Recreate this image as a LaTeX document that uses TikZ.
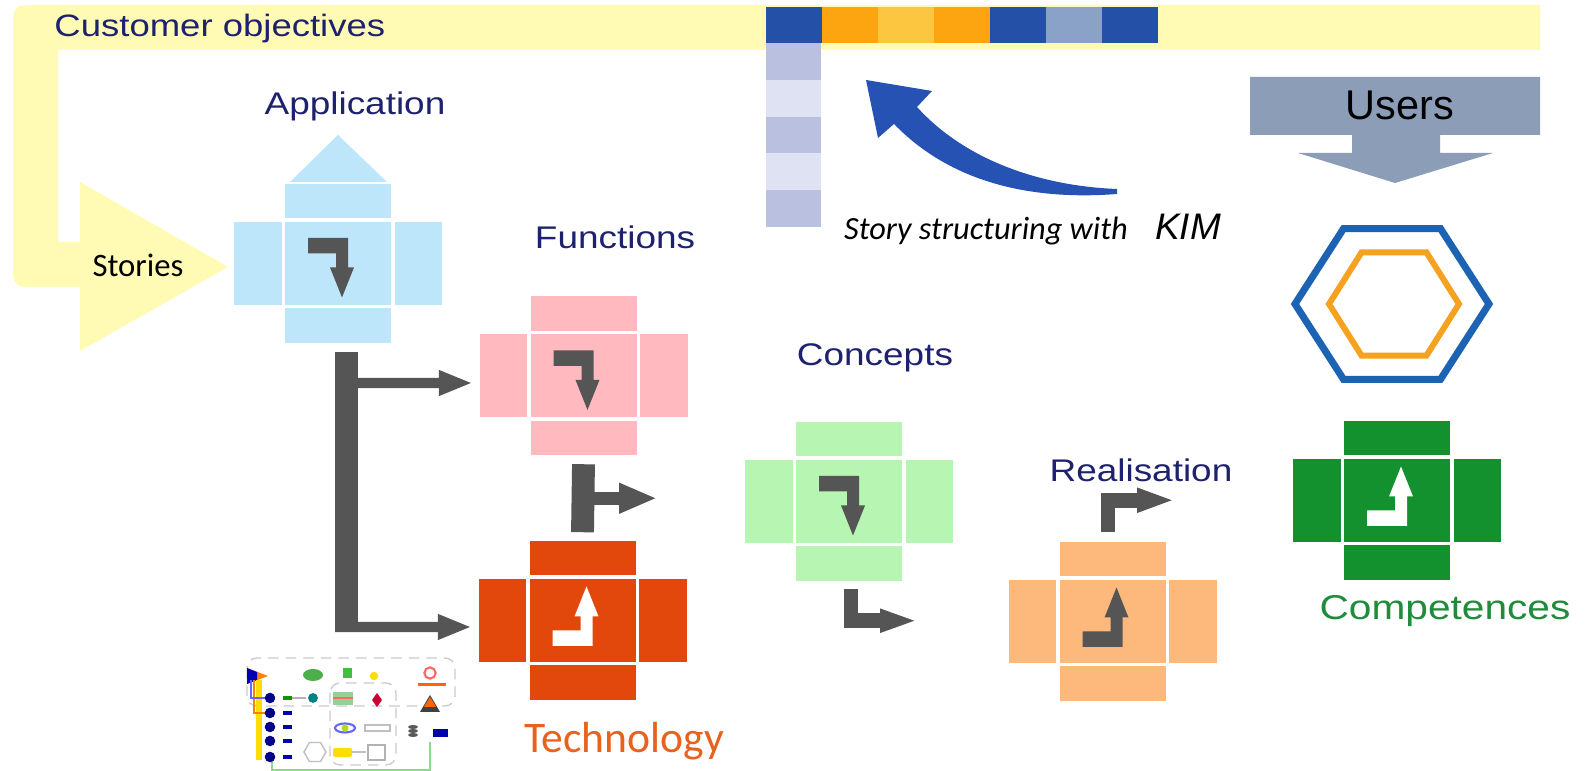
\documentclass[tikz,border=0pt]{standalone}
\usepackage{fontspec}
\setmainfont{Liberation Sans}
\newfontfamily\widefont{Liberation Sans}[FakeStretch=1.18]
\newfontfamily\calibrifont{Carlito}
\usetikzlibrary{arrows.meta,calc}

\definecolor{bandyellow}{HTML}{FFFBB5}
\definecolor{navy}{HTML}{1E226E}
\definecolor{appblue}{HTML}{BDE6FB}
\definecolor{funpink}{HTML}{FFB9BF}
\definecolor{tecred}{HTML}{E2470C}
\definecolor{congreen}{HTML}{B6F6B2}
\definecolor{reapeach}{HTML}{FDB97B}
\definecolor{comgreen}{HTML}{13912F}
\definecolor{flowgray}{HTML}{555555}
\definecolor{usergray}{HTML}{8C9DB8}
\definecolor{hexblue}{HTML}{1C63B4}
\definecolor{hexorange}{HTML}{F5A220}
\definecolor{kimblue}{HTML}{2652B4}
\definecolor{sqblue}{HTML}{2550A8}
\definecolor{sqorange}{HTML}{FCA511}
\definecolor{sqlight}{HTML}{FCC640}
\definecolor{sqgrey}{HTML}{8AA2C8}
\definecolor{colA}{HTML}{B9C0E0}
\definecolor{colB}{HTML}{DFE2F2}
\definecolor{tectext}{HTML}{E8621E}
\definecolor{comtext}{HTML}{1E8C3A}

\tikzset{
  crossbox/.style={minimum width=2.08cm, minimum height=1.59cm, inner sep=0pt},
  blocktitle/.style={text=navy, anchor=base, font=\widefont\fontsize{8.9}{11}\selectfont},
  trunk/.style={flowgray, line width=6.5pt},
  flow/.style={flowgray, line width=2.9pt, -{Triangle[length=9.6pt,width=6.6pt]}},
}

% one coloured block: centre square and four arms
\newcommand\crossblock[3]{%
  \node[crossbox] (#1) at (#2) {};
  \begin{scope}[shift={(#1.center)}, fill=#3]
    \fill (-53,-41.5) rectangle (53,41.5);
    \fill (-104,-41.5) rectangle (-56.5,41.5);
    \fill (56.5,-41.5) rectangle (104,41.5);
    \fill (-53,-79.5) rectangle (53,-45);
    \fill (-53,45) rectangle (53,79.5);
  \end{scope}}

% bent arrow inside a block, 1 = down, -1 = up
\newcommand\turnglyph[3]{%
  \fill[#2, shift={(#1.center)}, yscale=#3] (-30,-25.5) -- (10,-25.5) -- (10,4) -- (16,4)
    -- (4,34) -- (-8,4) -- (-2,4) -- (-2,-10) -- (-30,-10) -- cycle;}

\begin{document}
\begin{tikzpicture}[x=0.01cm,y=-0.01cm]
\useasboundingbox (0,0) rectangle (1587,771);
\fill[white] (0,0) rectangle (1587,771);

% customer objectives band with the stories arrow
\fill[bandyellow] (1540,5) -- (38,5) .. controls (13,5) .. (13,30) -- (13,262)
  .. controls (13,287) .. (38,287) -- (80,287) -- (80,351) -- (228,267) -- (80,182)
  -- (80,242) -- (58,242) -- (58,50) -- (1540,50) -- cycle;
\node[anchor=base west, text=navy, font=\widefont\fontsize{8.8}{11}\selectfont] (cust) at (42,37) {Customer objectives};
\node[anchor=base, font=\calibrifont\fontsize{9.3}{11}\selectfont] (stories) at (138,277) {Stories};

% KIM matrix
\foreach \c [count=\i from 0] in {sqblue,sqorange,sqlight,sqorange,sqblue,sqgrey,sqblue}
  \fill[\c] (766+56*\i,7) rectangle ++(56,36);
\foreach \c [count=\i from 0] in {colA,colB,colA,colB,colA}
  \fill[\c] (766,43+36.8*\i) rectangle ++(55,36.8);

\fill[kimblue] (1117,189) .. controls (1040,186) and (965,160) .. (917,107) -- (932,91)
  -- (866,80) -- (878,138) -- (894,124) .. controls (955,187) and (1040,200) .. (1117,194) -- cycle;
\node[anchor=base, font=\calibrifont\itshape\fontsize{9.2}{11}\selectfont] (story) at (986,240) {Story structuring with};
\node[anchor=base, font=\itshape\fontsize{10.5}{12}\selectfont] (kim) at (1188,240) {KIM};

% users
\fill[usergray] (1250,77) -- (1540,77) -- (1540,135) -- (1440,135) -- (1440,153) -- (1493,153)
  -- (1395,183) -- (1298,153) -- (1352,153) -- (1352,135) -- (1250,135) -- cycle;
\node[anchor=base, font=\fontsize{11.8}{13}\selectfont] (users) at (1400,120) {Users};

\draw[hexblue, line width=2pt, shift={(1392,304)}]
  (0:97 and 87) -- (60:97 and 87) -- (120:97 and 87) -- (180:97 and 87)
  -- (240:97 and 87) -- (300:97 and 87) -- cycle;
\draw[hexorange, line width=1.7pt, shift={(1394,304)}]
  (0:65 and 59.5) -- (60:65 and 59.5) -- (120:65 and 59.5) -- (180:65 and 59.5)
  -- (240:65 and 59.5) -- (300:65 and 59.5) -- cycle;

% blocks
\fill[appblue] (290,182) -- (387,182) -- (338,135) -- cycle;
\crossblock{app}{338,263.5}{appblue}
\crossblock{fun}{583.5,376}{funpink}
\crossblock{tec}{582.5,620.5}{tecred}
\crossblock{con}{849,501.5}{congreen}
\crossblock{rea}{1112.5,621.5}{reapeach}
\crossblock{com}{1397,500.5}{comgreen}

\turnglyph{app}{flowgray}{1}
\turnglyph{fun}{flowgray}{1}
\turnglyph{con}{flowgray}{1}
\turnglyph{tec}{white}{-1}
\turnglyph{rea}{flowgray}{-1}
\turnglyph{com}{white}{-1}

\node[blocktitle] (apptext) at (355,115) {Application};
\node[blocktitle] (funtext) at (615,249) {Functions};
\node[blocktitle] (context) at (875,366) {Concepts};
\node[blocktitle] (reatext) at (1141,482) {Realisation};
\node[anchor=base, text=comtext, font=\widefont\fontsize{9.8}{12}\selectfont] (comtext) at (1445,620) {Competences};
\node[anchor=base, text=tectext, font=\calibrifont\fontsize{12.4}{15}\selectfont] (tectext) at (624,753) {Technology};

% connectors
\coordinate (fork) at (346.5,352);
\draw[trunk] (fork) -- (346.5,632);
\draw[flow, shorten >=0.06cm] (346.5,383) -- ([yshift=-0.07cm]fun.west);
\draw[flow, shorten >=0.06cm] (335,627) -- ([yshift=-0.065cm]tec.west);

\draw[trunk] ([yshift=-0.08cm]fun.south) -- ([yshift=0.08cm]tec.north);
\draw[flow, line width=3.7pt, -{Triangle[length=10.8pt,width=8pt]}]
  ($(fun.south)!0.5!(tec.north)$) -- ++(74,0);

\draw[flow, line width=4.2pt, -{Triangle[length=10.8pt,width=6pt]}]
  ([xshift=0.02cm,yshift=-0.07cm]con.south) |- ++(67,32);
\draw[flow, line width=4.2pt, -{Triangle[length=10.8pt,width=6.3pt]}]
  ([xshift=-0.045cm,yshift=0.09cm]rea.north) |- ++(67,-32);

% small system sketch
\draw[gray!40, densely dashed, rounded corners=0.1cm] (247,658) rectangle (455,706);
\draw[gray!40, densely dashed, rounded corners=0.1cm] (330,683) rectangle (396,765);
\draw[green!50!gray!60, line width=0.6pt] (272,757) |- (430,770) -- (430,742);
\fill[orange] (247,668) -- (268,676) -- (247,684) -- cycle;
\fill[blue!70!black] (247,668) -- (257,672) -- (257,680) -- (247,684) -- cycle;
\draw[yellow!80!orange, line width=1.5pt] (259,680) -- (259,760);
\draw[orange, line width=0.8pt] (254,680) |- (265,713);
\draw[blue!60, line width=0.8pt] (251,680) |- (265,698);
\foreach \y in {698,713,727,741,757} {
  \fill[blue!55!black] (270,\y) circle (1.5pt);
  \fill[blue!70!black] (283,\y-2) rectangle (292,\y+2);
}
\fill[green!60!black] (283,696) rectangle (292,700);
\draw[gray!60] (292,698) -- (306,698);
\fill[green!55!black!70] (313,675) ellipse [x radius=0.1cm, y radius=0.06cm];
\fill[teal] (313,698) circle (1.4pt);
\fill[green!50!gray] (343,668) rectangle (352,678);
\fill[yellow!80!orange] (374,676) circle (1.2pt);
\fill[green!40!gray!60] (333,692) rectangle (353,705);
\draw[red!60, line width=0.4pt] (333,698) -- (353,698);
\fill[purple!80!red] (377,693) -- (382,700) -- (377,707) -- (372,700) -- cycle;
\draw[red!60, line width=0.6pt] (430,673) circle (1.6pt);
\fill[orange!80!red] (418,683) rectangle (446,686);
\fill[black!75] (420,712) -- (440,712) -- (430,695) -- cycle;
\fill[orange!80!red] (424,707) -- (436,707) -- (430,697) -- cycle;
\draw[blue!60, line width=0.6pt] (345,728) ellipse [x radius=0.1cm, y radius=0.045cm];
\fill[yellow!70!green] (345,728) circle (1pt);
\draw[gray!50] (365,725) rectangle (390,731);
\foreach \y in {727,731,735}
  \fill[gray!70!black] (413,\y) ellipse [x radius=0.05cm, y radius=0.02cm];
\fill[blue!70!black] (433,729) rectangle (448,737);
\draw[gray!50, shift={(315,752)}] (0:11) -- (60:11) -- (120:11) -- (180:11) -- (240:11) -- (300:11) -- cycle;
\fill[yellow!80!orange, rounded corners=0.02cm] (333,748) rectangle (352,757);
\draw[gray!50] (352,752) -- (366,752);
\draw[gray!60] (368,745) rectangle (385,760);
\end{tikzpicture}
\end{document}
